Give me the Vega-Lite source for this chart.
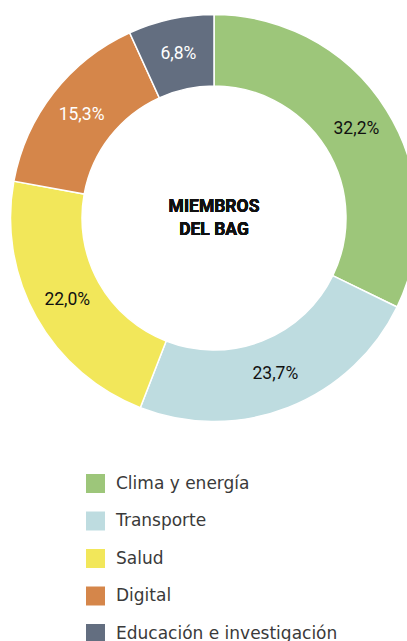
{
  "$schema": "https://vega.github.io/schema/vega-lite/v6.json",
  "autosize": "none",
  "padding": {"top": 0, "left": 0, "right": 0, "bottom": 205},
  "width": 428,
  "height": 436,
  "background": "white",
  "config": {"view": {"stroke": null}},
  "data": {"values": [
    {"categoria": "Clima y energía", "valor": 32.2, "etiqueta": "32,2%", "orden": 1},
    {"categoria": "Transporte", "valor": 23.7, "etiqueta": "23,7%", "orden": 2},
    {"categoria": "Salud", "valor": 22.0, "etiqueta": "22,0%", "orden": 3},
    {"categoria": "Digital", "valor": 15.3, "etiqueta": "15,3%", "orden": 4},
    {"categoria": "Educación e investigación", "valor": 6.8, "etiqueta": "6,8%", "orden": 5}
  ]},
  "encoding": {
    "theta": {"field": "valor", "type": "quantitative", "stack": true},
    "order": {"field": "orden", "type": "quantitative"}
  },
  "layer": [
    {
      "mark": {"type": "arc", "outerRadius": 203.5, "innerRadius": 132, "stroke": "white", "strokeWidth": 1.5},
      "encoding": {
        "color": {
          "field": "categoria", "type": "nominal",
          "scale": {
            "domain": ["Clima y energía", "Transporte", "Salud", "Digital", "Educación e investigación"],
            "range": ["#9DC67A", "#BEDCE0", "#F2E75A", "#D5864A", "#636E80"]
          },
          "sort": null,
          "legend": {
            "title": null,
            "orient": "none",
            "legendX": 86,
            "legendY": 474,
            "direction": "vertical",
            "symbolType": "square",
            "symbolSize": 361,
            "symbolStrokeWidth": 0,
            "symbolOpacity": 1,
            "labelFont": "DejaVu Sans",
            "labelFontSize": 17,
            "labelFontWeight": "normal",
            "labelColor": "#3a3a3a",
            "labelOffset": 11,
            "rowPadding": 18.5,
            "padding": 0,
            "labelLimit": 400
          }
        }
      }
    },
    {
      "mark": {"type": "text", "radius": 168, "font": "Roboto", "fontSize": 17.5},
      "encoding": {
        "text": {"field": "etiqueta"},
        "color": {"condition": {"test": "datum.valor < 20", "value": "white"}, "value": "#111111"}
      }
    },
    {
      "mark": {"type": "text", "text": ["MIEMBROS", "DEL BAG"], "font": "Roboto", "fontSize": 17.5, "fontWeight": "bold", "lineHeight": 23, "dy": -11.5, "color": "#111111", "align": "center", "baseline": "middle"},
      "encoding": {}
    }
  ]
}
